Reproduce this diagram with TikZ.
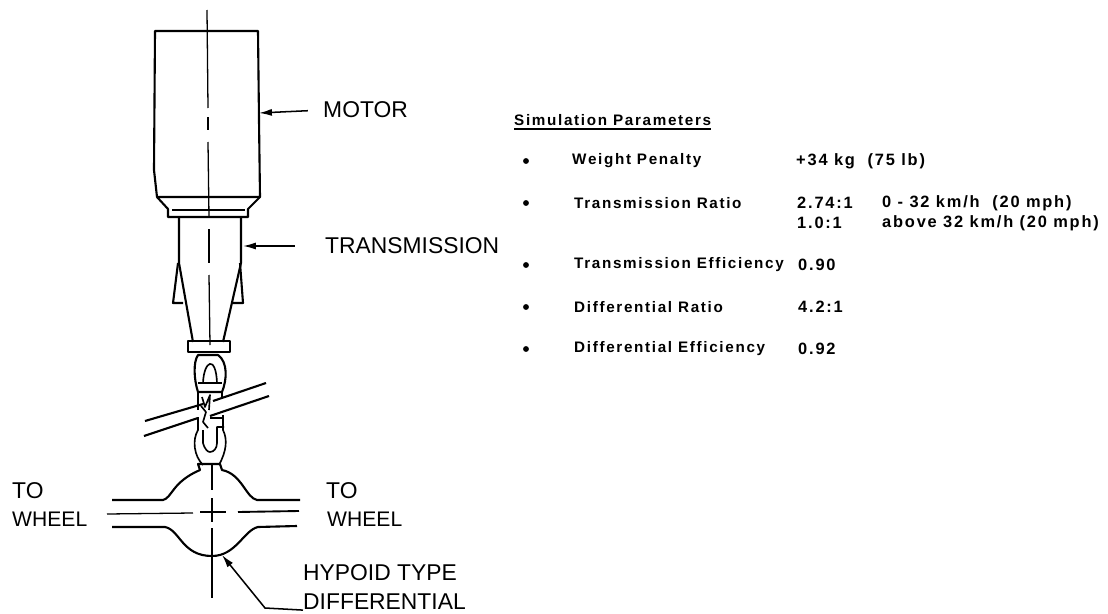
\documentclass[tikz,border=0pt]{standalone}
\usepackage{fontspec}
\setmainfont{Liberation Sans}
\newfontfamily\printfont[LetterSpace=11]{Liberation Sans Bold}
\usepackage{tikz}
\usetikzlibrary{arrows.meta,positioning,calc}

\begin{document}
\begin{tikzpicture}[
    x=0.03cm, y=-0.03cm,
    part/.style={draw=black, line width=1.8pt, line join=round},
    thin part/.style={draw=black, line width=1.4pt, line join=round},
    axis line/.style={draw=black, line width=1.1pt},
    label/.style={inner sep=0pt, anchor=west, font=\fontsize{19.5}{21}\selectfont},
    wheel label/.style={label, font=\fontsize{18}{20}\selectfont},
    param/.style={inner sep=0pt, anchor=west, font=\fontsize{13}{15}\printfont},
    value/.style={inner sep=0pt, anchor=west, font=\fontsize{14}{15}\printfont},
    dot/.style={circle, fill=black, inner sep=0pt, minimum size=5pt},
    leader/.style={draw=black, line width=1.3pt, -{Latex[length=11pt,width=6pt]}}
]
\useasboundingbox (0,0) rectangle (1108,614);
% motor
\draw[part] (155,31) -- (258,31) -- (259,120) -- (260,197) -- (157,197) -- (154,170) -- cycle;
\draw[part] (157,197) -- (168,209) -- (168,217) -- (248,217) -- (248,209) -- (260,197);
\draw[thin part] (172,210) -- (245,210);
% transmission housing
\draw[part] (179,217) -- (179,263) -- (193,342);
\draw[part] (241,217) -- (241,263) -- (223,342);
\draw[part] (178,263) -- (173,303) -- (183,303);
\draw[part] (240,263) -- (243,303) -- (232,303);
\draw[part] (188,341) rectangle (230,352);
% upper joint
\draw[part] (198,355) .. controls (193,362) and (194,380) .. (198,392) -- (222,392)
    .. controls (227,380) and (228,362) .. (218,355) -- cycle;
\draw[thin part] (203,383) .. controls (204,360) and (216,355) .. (217,383);
\draw[thin part] (198,383) -- (222,383);
\draw[thin part] (198,392) -- (198,410);
\draw[thin part] (222,392) -- (222,399);
\draw[thin part] (202,397) -- (205,407) -- (210,395) -- (209,410);
% floor tunnel
\draw[part] (145,421) -- (203,404);
\draw[part] (213,401) -- (266,383);
\draw[part] (144,436) -- (198,418);
\draw[part] (210,416) -- (269,396);
% lower joint
\draw[thin part] (201,406) -- (206,412) -- (203,422) -- (208,428);
\draw[thin part] (198,417) -- (198,430) .. controls (192,440) and (194,456) .. (203,465);
\draw[thin part] (223,415) -- (223,430) .. controls (228,440) and (226,452) .. (219,465);
\draw[thin part] (203,430) -- (203,443) .. controls (205,450) and (208,452) .. (210,452)
    .. controls (214,452) and (217,448) .. (217,443) -- (217,427) -- (224,427);
\draw[thin part] (210,418) -- (222,418);
% differential housing
\draw[part] (112,500) -- (163,500) .. controls (172,498) and (172,482) .. (200,470) -- (198,464) -- (220,464) -- (222,470)
    .. controls (242,474) and (246,498) .. (257,500) -- (300,500);
\draw[part] (112,527) -- (165,527) .. controls (180,530) and (182,556) .. (212,556)
    .. controls (236,556) and (244,530) .. (258,527) -- (297,526);
% axles
\draw[axis line] (107,514) -- (193,513);
\draw[axis line, line width=1.6pt] (200,512) -- (226,512);
\draw[axis line, line width=1.6pt] (238,512) -- (299,511);
% center line
\draw[axis line] (207,10) -- (208,108);
\draw[axis line] (208,117) -- (208,130);
\draw[axis line] (208,142) -- (209,217);
\draw[axis line] (209,229) -- (209,263);
\draw[axis line] (209,275) -- (210,345);
\draw[axis line] (212,463) -- (212,490);
\draw[axis line] (212,498) -- (212,522);
\draw[axis line] (212,528) -- (212,598);
% labels
\node[label] (motor) at (323,110) {MOTOR};
\node[label] (trans) at (325,246) {TRANSMISSION};
\node[label] (toleft) at (12,491) {TO};
\node[wheel label] (wheelleft) at (12,519) {WHEEL};
\node[label] (toright) at (326,491) {TO};
\node[wheel label] (wheelright) at (327,519) {WHEEL};
\node[label] (hypoid) at (303,573) {HYPOID TYPE};
\node[label] (diff) at (303,602) {DIFFERENTIAL};
\coordinate (motortip) at (259,113);
\coordinate (transtip) at (243,246);
\coordinate (difftip) at (222,555);
\coordinate (diffbend) at (265,608);
\draw[leader, shorten <=13pt] (motor.west) -- (motortip);
\draw[leader, shorten <=26pt] (trans.west) -- (transtip);
\draw[leader] (diff.south west) -- (diffbend) -- (difftip);
% simulation parameters
\node[param] (simhead) at (514,120) {Simulation Parameters};
\draw[thin part] (simhead.south west) ++(0,3) -- ($(simhead.south east)+(0,3)$);
\node[dot] (dota) at (526,161) {};
\node[dot] (dotb) at (526,203) {};
\node[dot] (dotc) at (526,265) {};
\node[dot] (dotd) at (526,307) {};
\node[dot] (dote) at (526,349) {};
\node[param] (weight) at (572,161) {Weight Penalty};
\node[value] (weightval) at (796,161) {+34 kg\ \ (75 lb)};
\node[param] (ratio) at (574,203) {Transmission Ratio};
\node[value] (ratioa) at (797,203) {2.74:1};
\node[value] (ratiob) at (797,223) {1.0:1};
\node[value] (speeda) at (882,203) {0\ - 32\ km/h\ \ (20 mph)};
\node[value] (speedb) at (882,223) {above 32 km/h (20 mph)};
\node[param] (teff) at (574,265) {Transmission Efficiency};
\node[value] (teffval) at (798,265) {0.90};
\node[param] (dratio) at (574,307) {Differential Ratio};
\node[value] (dratioval) at (798,307) {4.2:1};
\node[param] (deff) at (574,349) {Differential Efficiency};
\node[value] (deffval) at (798,349) {0.92};
\end{tikzpicture}
\end{document}
